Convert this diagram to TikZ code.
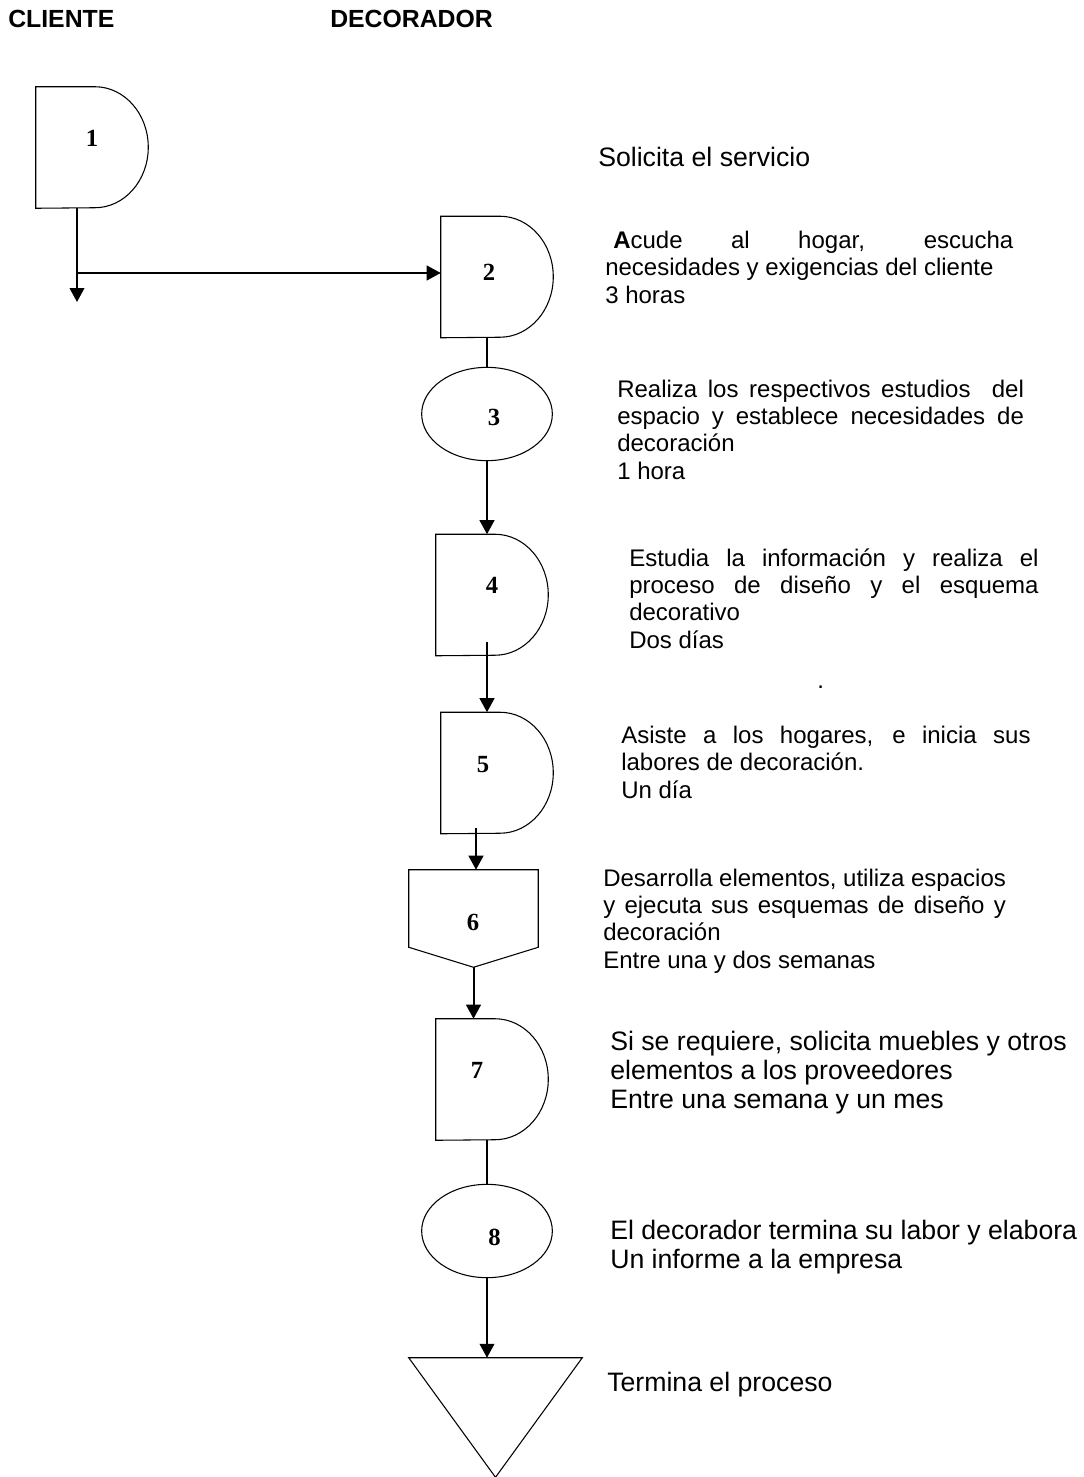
\documentclass[tikz,border=0pt]{standalone}
\usepackage{fontspec}
\setmainfont{Liberation Sans}
\newfontfamily\numfont{Liberation Serif}
\usepackage{tikz}
\usetikzlibrary{arrows.meta,shapes.geometric}
\hbadness=10000
\tikzset{%
  tipD/.tip={Triangle[length=10.5pt,width=11pt]},
  delay/.style={minimum width=84pt,minimum height=90.75pt,inner sep=0pt},
  oper/.style={ellipse,draw,line width=0.8pt,minimum width=98pt,minimum height=70pt,inner sep=0pt},
  num/.style={font=\numfont\bfseries\fontsize{18.5}{20}\selectfont,inner sep=0pt},
  lane/.style={font=\bfseries\fontsize{18.6}{20}\selectfont,anchor=base west,inner sep=0pt},
  desc/.style={font=\fontsize{18}{20.5}\selectfont,anchor=base west,inner sep=0pt,align=left},
  descB/.style={font=\fontsize{20}{21.5}\selectfont,anchor=base west,inner sep=0pt,align=left},
  shapeline/.style={line width=0.8pt},
  link/.style={line width=1pt},
  flow/.style={line width=1.5pt,-tipD}
}
% D shaped box drawn round an empty node
\newcommand{\delayshape}[1]{%
  \draw[shapeline] (#1.north west) -- ([xshift=-40pt]#1.north east)
    arc[start angle=90,end angle=-90,x radius=40pt,y radius=45.375pt]
    -- (#1.south west) -- cycle;}
\newcommand{\fullline}[2]{\makebox[#1][s]{#2}}

\begin{document}
\begin{tikzpicture}[x=0.75pt,y=-0.75pt]
\useasboundingbox (0,0) rectangle (1084,1477);

% lanes
\node[lane] (hc) at (8,28) {CLIENTE};
\node[lane] (hd) at (330,28) {DECORADOR};

% shapes
\node[delay] (d1) at (92,147.5) {};
\node[delay] (d2) at (497,277) {};
\node[oper] (e3) at (487,414) {};
\node[delay] (d4) at (492,595) {};
\node[delay] (d5) at (497,773) {};
\node[minimum width=96.75pt,minimum height=72.75pt,inner sep=0pt] (p6) at (473.5,918.5) {};
\node[delay] (d7) at (492,1079.5) {};
\node[oper] (e8) at (487,1231) {};
\node[minimum width=129.75pt,minimum height=89.25pt,inner sep=0pt] (t9) at (495.5,1417.5) {};

\delayshape{d1}
\delayshape{d2}
\delayshape{d4}
\delayshape{d5}
\delayshape{d7}
\draw[shapeline] (p6.north west) -- (p6.north east) -- ([yshift=15pt]p6.south east)
  -- (p6.south) -- ([yshift=15pt]p6.south west) -- cycle;
\draw[shapeline] (t9.north west) -- (t9.north east) -- (t9.south) -- cycle;

% numbers
\node[num] (n1) at (92,138) {1};
\node[num] (n2) at (489,272) {2};
\node[num] (n3) at (494,417) {3};
\node[num] (n4) at (492,585) {4};
\node[num] (n5) at (483,765) {5};
\node[num] (n6) at (473,922) {6};
\node[num] (n7) at (477,1070) {7};
\node[num] (n8) at (494.5,1237) {8};

% connectors
\coordinate (c1) at (77,302);
\draw[flow] (d1.south -| c1) -- (c1);
\draw[flow] ([yshift=3pt]c1 |- d2.west) -- ([yshift=3pt]d2.west);
\draw[link] (e3.north |- d2.south) -- (e3.north);
\draw[flow] (e3.south) -- (e3.south |- d4.north);
\draw[flow] ([yshift=10.5pt]d4.south -| e3.south) -- (e3.south |- d5.north);
\draw[flow] ([xshift=-15.75pt,yshift=4.5pt]d5.south) -- ([xshift=-15.75pt]d5.south |- p6.north);
\draw[flow] (p6.south) -- (p6.south |- d7.north);
\draw[link] (e8.north |- d7.south) -- (e8.north);
\draw[flow] (e8.south) -- (e8.south |- t9.north);

% texts (placed by the baseline of their last line)
\node[descB] (s1) at (598,166) {Solicita el servicio};
\node[desc] (s2) at (605,303) {\fullline{306pt}{\hspace*{6pt}\textbf{A}cude al hogar, escucha}\\
  necesidades y exigencias del cliente\\ 3 horas};
\node[desc] (s3) at (617,479) {\fullline{305pt}{Realiza los respectivos estudios\ \ del}\\
  \fullline{305pt}{espacio y establece necesidades de}\\ decoración\\ 1 hora};
\node[desc] (s4) at (629,648) {\fullline{307pt}{Estudia la información y realiza el}\\
  \fullline{307pt}{proceso de diseño y el esquema}\\ decorativo\\ Dos días};
\node[desc] (dot) at (817,688) {.};
\node[desc] (s5) at (621,798) {\fullline{307pt}{Asiste a los hogares, e inicia sus}\\
  labores de decoración.\\ Un día};
\node[desc] (s6) at (603,968) {\fullline{302pt}{Desarrolla elementos, utiliza espacios}\\
  \fullline{302pt}{y ejecuta sus esquemas de diseño y}\\ decoración\\ Entre una y dos semanas};
\node[descB] (s7) at (610,1108) {Si se requiere, solicita muebles y otros\\
  elementos a los proveedores\\ Entre una semana y un mes};
\node[descB] (s8) at (610,1268) {El decorador termina su labor y elabora\\ Un informe a la empresa};
\node[descB] (s9) at (607,1391) {Termina el proceso};
\end{tikzpicture}
\end{document}
